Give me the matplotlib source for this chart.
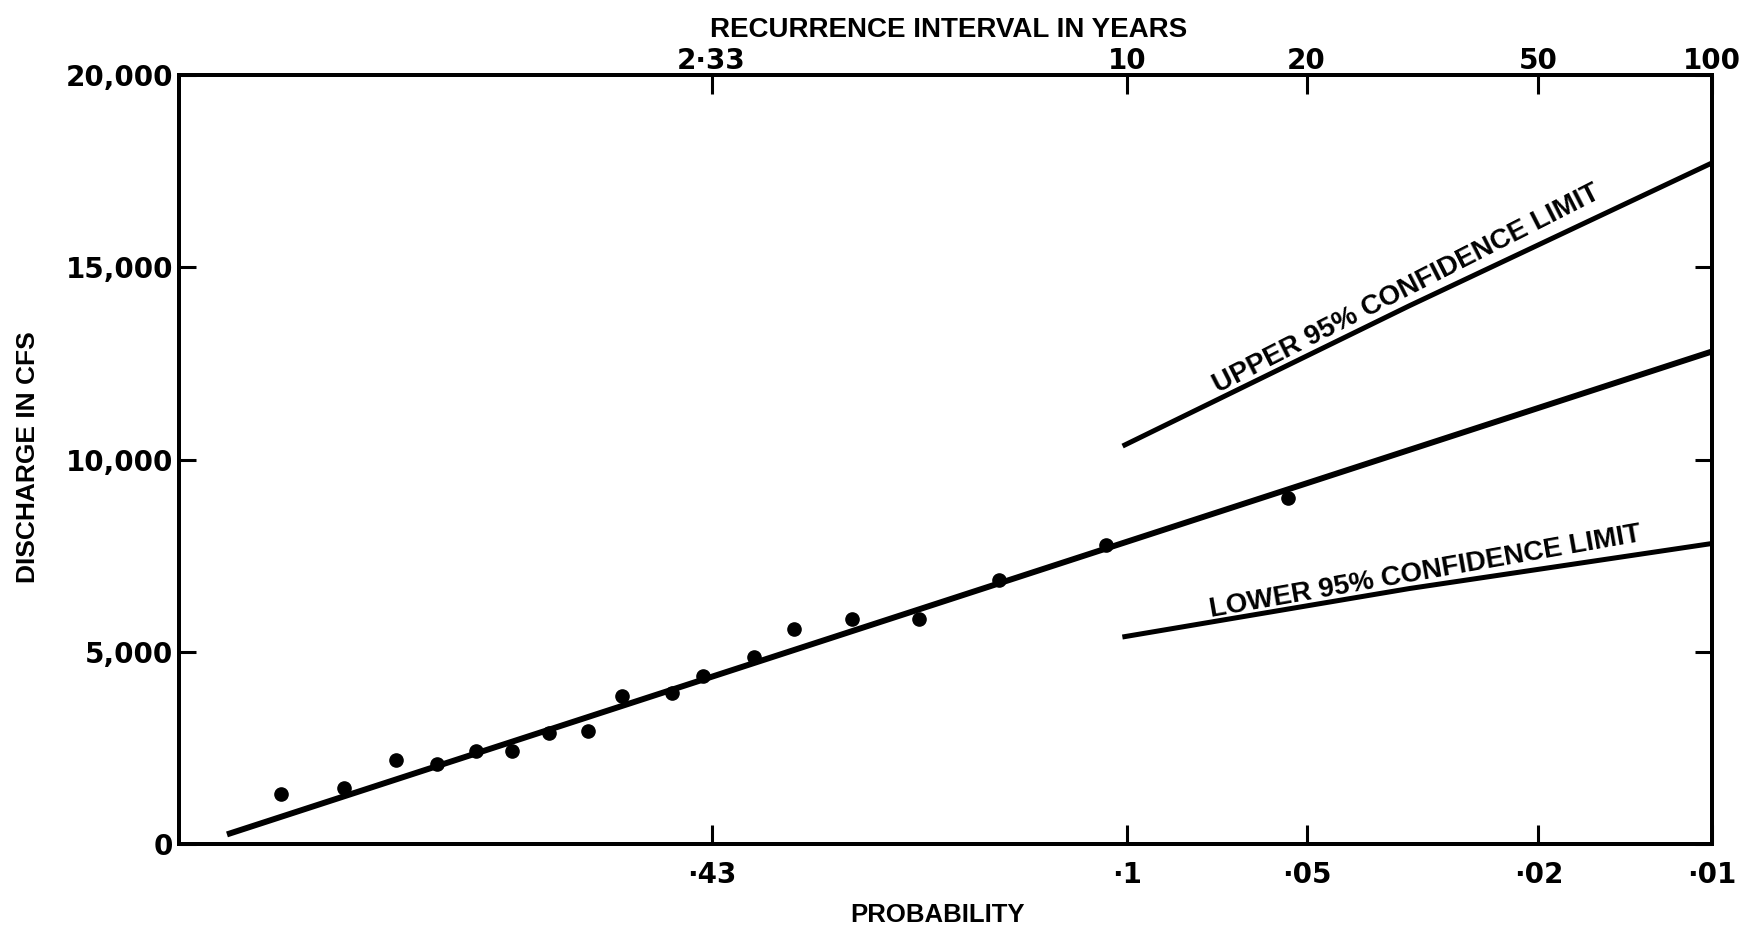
import numpy as np
import matplotlib
matplotlib.use('Agg')
import matplotlib.pyplot as plt
from matplotlib.ticker import NullLocator

# recurrence interval (years) and peak discharge (cfs) of the plotted floods
recur = [1.044, 1.094, 1.158, 1.227, 1.309, 1.402, 1.516, 1.662, 1.812, 2.078,
         2.273, 2.657, 3.021, 3.667, 4.626, 6.18, 9.21, 18.6]
peak_q = [1300, 1470, 2190, 2090, 2430, 2440, 2890, 2950, 3860, 3940,
          4380, 4860, 5590, 5850, 5870, 6870, 7780, 8990]

# fitted line and 95% confidence limits
fit_T = [1.02, 100]
fit_q = [260, 12810]
upper_T = [9.9, 30, 100]
upper_q = [10380, 14000, 17710]
lower_T = [9.9, 30, 100]
lower_q = [5400, 6650, 7820]

tick_T = [2.33, 10, 20, 50, 100]
top_labels = ['2·33', '10', '20', '50', '100']
bottom_labels = ['·43', '·1', '·05', '·02', '·01']
q_ticks = [0, 5000, 10000, 15000, 20000]
q_labels = ['0', '5,000', '10,000', '15,000', '20,000']


# Gumbel (extreme value) probability scale on recurrence interval
def gumbel(T):
    T = np.asarray(T, dtype=float)
    with np.errstate(divide='ignore', invalid='ignore'):
        return -np.log(-np.log(1.0 - 1.0 / T))


def gumbel_inv(r):
    r = np.asarray(r, dtype=float)
    with np.errstate(over='ignore', divide='ignore', invalid='ignore'):
        return 1.0 / (1.0 - np.exp(-np.exp(-r)))


plt.rcParams['font.family'] = 'DejaVu Sans'
plt.rcParams['font.weight'] = 'bold'
lab = dict(family='Liberation Sans', fontweight='bold', color='black')

fig = plt.figure(figsize=(17.49, 9.31), dpi=100)
ax = fig.add_axes([0.1021, 0.093, 0.8768, 0.8267])
ax.set_xscale('function', functions=(gumbel, gumbel_inv))

ax.plot(fit_T, fit_q, color='black', lw=4.3, solid_capstyle='butt')
ax.plot(upper_T, upper_q, color='black', lw=3.6)
ax.plot(lower_T, lower_q, color='black', lw=3.6)
ax.plot(recur, peak_q, 'o', color='black', ms=9.5)

ax.set_xlim(1.0085, 100)
ax.set_ylim(0, 20000)

ax.set_xticks(tick_T)
ax.set_xticklabels(bottom_labels)
ax.xaxis.set_minor_locator(NullLocator())
ax.tick_params(axis='x', direction='in', length=14, width=2.2, pad=12, labelsize=20)
ax.set_yticks(q_ticks)
ax.set_yticklabels(q_labels)
ax.tick_params(axis='y', direction='in', length=12, width=2.2, right=True, pad=4, labelsize=20)

ax2 = ax.twiny()
ax2.set_xscale('function', functions=(gumbel, gumbel_inv))
ax2.set_xlim(ax.get_xlim())
ax2.set_xticks(tick_T)
ax2.set_xticklabels(top_labels)
ax2.xaxis.set_minor_locator(NullLocator())
ax2.tick_params(axis='x', direction='in', length=14, width=2.2, pad=0, labelsize=20)

for a in (ax, ax2):
    for s in a.spines.values():
        s.set_linewidth(2.8)

ax.text(14.15, 11740, 'UPPER 95% CONFIDENCE LIMIT', rotation=27, rotation_mode='anchor',
        ha='left', va='baseline', fontsize=20, **lab)
ax.text(13.8, 5900, 'LOWER 95% CONFIDENCE LIMIT', rotation=10, rotation_mode='anchor',
        ha='left', va='baseline', fontsize=20, **lab)

fig.text(0.5426, 0.968, 'RECURRENCE INTERVAL IN YEARS', ha='center', va='center', fontsize=20, **lab)
fig.text(0.536, 0.017, 'PROBABILITY', ha='center', va='center', fontsize=18.5, **lab)
fig.text(0.016, 0.509, 'DISCHARGE IN CFS', rotation=90, ha='center', va='center', fontsize=19, **lab)

fig.savefig('out.png', dpi=100)
